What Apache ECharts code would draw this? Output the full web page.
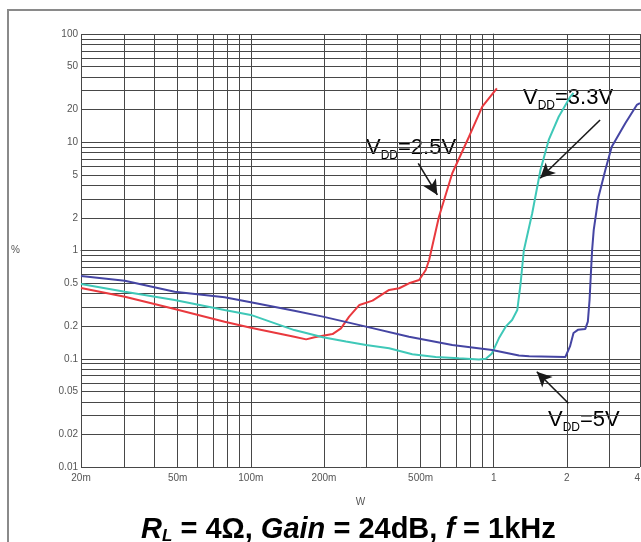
<!DOCTYPE html>
<html>
<head>
<meta charset="utf-8">
<script src="https://cdn.jsdelivr.net/npm/echarts@6/dist/echarts.min.js"></script>
<style>
  html, body { margin: 0; padding: 0; background: #fff; }
  #chart { width: 641px; height: 542px; }
</style>
</head>
<body>
<div id="chart"></div>
<script>
// THD+N (%) versus output power (W), RL = 4 ohm, gain 24 dB, f = 1 kHz
const powerW_2v5 = [0.02, 0.0303, 0.0486, 0.078, 0.100, 0.151, 0.169, 0.183, 0.217, 0.235, 0.254, 0.280, 0.317, 0.371, 0.408, 0.448, 0.493, 0.525, 0.542, 0.595, 0.675, 0.791, 0.897, 1.03];
const thdPct_2v5 = [0.45, 0.374, 0.288, 0.220, 0.1935, 0.160, 0.151, 0.158, 0.169, 0.191, 0.245, 0.314, 0.344, 0.432, 0.448, 0.498, 0.534, 0.66, 0.817, 2.05, 5.17, 11.25, 21.3, 31.5];

const powerW_3v3 = [0.02, 0.0303, 0.0486, 0.078, 0.100, 0.151, 0.198, 0.2465, 0.298, 0.371, 0.462, 0.577, 0.719, 0.869, 0.928, 0.983, 1.05, 1.12, 1.19, 1.25, 1.29, 1.33, 1.44, 1.557, 1.684, 1.851, 2.068, 2.13];
const thdPct_3v3 = [0.49, 0.416, 0.349, 0.282, 0.254, 0.184, 0.158, 0.144, 0.134, 0.125, 0.110, 0.104, 0.101, 0.0985, 0.0998, 0.112, 0.1545, 0.198, 0.228, 0.282, 0.498, 1.0, 2.21, 5.54, 10.5, 17.2, 26.4, 28.5];

const powerW_5v = [0.02, 0.0303, 0.0486, 0.078, 0.100, 0.151, 0.198, 0.298, 0.448, 0.675, 0.985, 1.27, 1.40, 1.97, 2.0, 2.06, 2.13, 2.22, 2.38, 2.44, 2.48, 2.51, 2.54, 2.58, 2.70, 2.88, 3.06, 3.48, 3.88, 4.0];
const thdPct_5v = [0.58, 0.526, 0.416, 0.370, 0.332, 0.278, 0.245, 0.198, 0.160, 0.134, 0.1205, 0.107, 0.1057, 0.1037, 0.104, 0.13, 0.173, 0.185, 0.188, 0.22, 0.35, 0.6, 1.0, 1.55, 3.14, 5.54, 9.1, 15.0, 22.1, 23.0];

// Axis ranges and labelled ticks
const xRange = [0.02, 4];
const yRange = [0.01, 100];
const xTickValues = [0.02, 0.05, 0.1, 0.2, 0.5, 1, 2, 4];
const xTickLabels = ['20m', '50m', '100m', '200m', '500m', '1', '2', '4'];
const yTickValues = [0.01, 0.02, 0.05, 0.1, 0.2, 0.5, 1, 2, 5, 10, 20, 50, 100];
const yTickLabels = ['0.01', '0.02', '0.05', '0.1', '0.2', '0.5', '1', '2', '5', '10', '20', '50', '100'];

// Annotation arrows: [tail, head] in (W, %)
const arrow_2v5 = [[0.489, 6.39], [0.586, 3.26]];
const arrow_3v3 = [[2.74, 16.06], [1.552, 4.65]];
const arrow_5v = [[2.029, 0.0388], [1.504, 0.0759]];

const lg = Math.log10;
const toPts = (xs, ys) => xs.map((x, i) => [lg(x), lg(ys[i])]);

// 1..9 x 10^n grid positions inside a range
function logGrid(lo, hi) {
  const out = [];
  for (let e = -3; e <= 3; e++) {
    for (let m = 1; m <= 9; m++) {
      const v = +(m * Math.pow(10, e)).toPrecision(6);
      if (v >= lo && v <= hi) out.push(v);
    }
  }
  return out;
}

function labelFor(values, labels) {
  return (v) => {
    const i = values.findIndex(t => Math.abs(lg(t) - v) < 1e-9);
    return i >= 0 ? labels[i] : '';
  };
}

const FONT = '"Liberation Sans", Arial, sans-serif';
const GRID_COLOR = '#474747';
const LABEL_COLOR = '#555';

function arrowLine(a) {
  return {
    silent: true,
    animation: false,
    symbol: ['none', 'arrow'],
    symbolSize: [11, 15],
    label: { show: false },
    lineStyle: { color: '#1a1a1a', width: 1.6, type: 'solid' },
    emphasis: { disabled: true },
    data: [[{ coord: [lg(a[0][0]), lg(a[0][1])] }, { coord: [lg(a[1][0]), lg(a[1][1])] }]]
  };
}

const chart = echarts.init(document.getElementById('chart'), null, { renderer: 'canvas' });

const vddRich = {
  v: { fontSize: 22, fontFamily: FONT, color: '#505050', lineHeight: 28, verticalAlign: 'middle' },
  s: { fontSize: 12, fontFamily: FONT, color: '#505050', lineHeight: 28, verticalAlign: 'bottom' }
};

const titleRich = {
  i: { fontSize: 29, fontWeight: 'bold', fontStyle: 'italic', fontFamily: FONT, color: '#111', lineHeight: 30, verticalAlign: 'middle' },
  n: { fontSize: 29, fontWeight: 'bold', fontFamily: FONT, color: '#111', lineHeight: 30, verticalAlign: 'middle' },
  sub: { fontSize: 17, fontWeight: 'bold', fontStyle: 'italic', fontFamily: FONT, color: '#111', lineHeight: 30, verticalAlign: 'bottom' }
};

chart.setOption({
  animation: false,
  backgroundColor: '#fff',
  grid: { left: 81, top: 34, width: 559, height: 433, containLabel: false, outerBoundsMode: 'none' },
  xAxis: {
    type: 'value',
    min: lg(xRange[0]),
    max: lg(xRange[1]),
    name: 'W',
    nameLocation: 'middle',
    nameGap: 30,
    nameTextStyle: { fontSize: 10, color: LABEL_COLOR, fontFamily: FONT },
    axisLine: { show: true, lineStyle: { color: GRID_COLOR, width: 1 } },
    axisTick: { show: false, customValues: logGrid(xRange[0], xRange[1]).map(lg) },
    axisLabel: {
      customValues: xTickValues.map(lg),
      formatter: labelFor(xTickValues, xTickLabels),
      alignMaxLabel: 'right',
      fontSize: 10, color: LABEL_COLOR, fontFamily: FONT, margin: 6
    },
    splitLine: { show: true, lineStyle: { color: GRID_COLOR, width: 1 } }
  },
  yAxis: {
    type: 'value',
    min: lg(yRange[0]),
    max: lg(yRange[1]),
    name: '%',
    nameLocation: 'middle',
    nameRotate: 0,
    nameGap: 61,
    nameTextStyle: { fontSize: 10, color: LABEL_COLOR, fontFamily: FONT },
    axisLine: { show: true, lineStyle: { color: GRID_COLOR, width: 1 } },
    axisTick: { show: false, customValues: logGrid(yRange[0], yRange[1]).map(lg) },
    axisLabel: {
      customValues: yTickValues.map(lg),
      formatter: labelFor(yTickValues, yTickLabels),
      fontSize: 10, color: LABEL_COLOR, fontFamily: FONT, margin: 3
    },
    splitLine: { show: true, lineStyle: { color: GRID_COLOR, width: 1 } }
  },
  series: [
    {
      name: 'VDD=2.5V', type: 'line', showSymbol: false, smooth: false,
      lineStyle: { color: '#e9393e', width: 2 },
      data: toPts(powerW_2v5, thdPct_2v5),
      markLine: arrowLine(arrow_2v5)
    },
    {
      name: 'VDD=3.3V', type: 'line', showSymbol: false, smooth: false,
      lineStyle: { color: '#3fc8b8', width: 2 },
      data: toPts(powerW_3v3, thdPct_3v3),
      markLine: arrowLine(arrow_3v3)
    },
    {
      name: 'VDD=5V', type: 'line', showSymbol: false, smooth: false,
      lineStyle: { color: '#4545a3', width: 2 },
      data: toPts(powerW_5v, thdPct_5v),
      markLine: arrowLine(arrow_5v)
    }
  ],
  graphic: [
    {
      type: 'rect', silent: true, z: -1,
      shape: { x: 8, y: 10, width: 700, height: 600 },
      style: { fill: 'none', stroke: '#8a8a8a', lineWidth: 2 }
    },
    {
      type: 'text', x: 366, y: 148, silent: true,
      style: { text: '{v|V}{s|DD}{v|=2.5V}', rich: vddRich, align: 'left', verticalAlign: 'middle' }
    },
    {
      type: 'text', x: 523, y: 98, silent: true,
      style: { text: '{v|V}{s|DD}{v|=3.3V}', rich: vddRich, align: 'left', verticalAlign: 'middle' }
    },
    {
      type: 'text', x: 548, y: 420, silent: true,
      style: { text: '{v|V}{s|DD}{v|=5V}', rich: vddRich, align: 'left', verticalAlign: 'middle' }
    },
    {
      type: 'text', x: 141, y: 529.5, silent: true,
      style: {
        text: '{i|R}{sub|L}{n| = 4Ω, }{i|Gain}{n| = 24dB, }{i|f}{n| = 1kHz}',
        rich: titleRich, align: 'left', verticalAlign: 'middle'
      }
    }
  ]
});
</script>
</body>
</html>
